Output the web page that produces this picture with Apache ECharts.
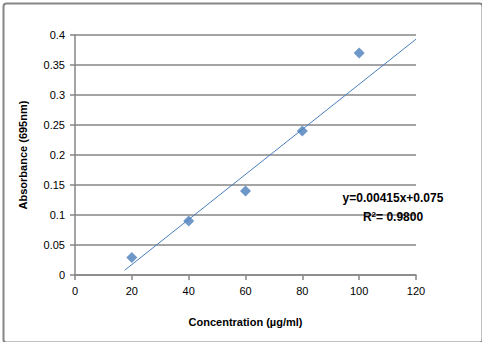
<!DOCTYPE html>
<html>
<head>
<meta charset="utf-8">
<script src="https://cdn.jsdelivr.net/npm/echarts@6/dist/echarts.min.js"></script>
<style>
html,body{margin:0;padding:0;background:#fff;}
#chart{width:482px;height:342px;}
</style>
</head>
<body>
<div id="chart"></div>
<script>
// Data
var concentrations = [20, 40, 60, 80, 100];
var absorbances = [0.029, 0.09, 0.14, 0.24, 0.37];
var trendX = [17.5, 120];
var trendY = [0.008, 0.393];
var xTitle = 'Concentration (µg/ml)';
var yTitle = 'Absorbance (695nm)';
var equationText = 'y=0.00415x+0.075';
var r2Value = '0.9800';

var font = '"Liberation Sans", Arial, sans-serif';
var gray = '#868686';
var blue = '#4a7ebb';

var chart = echarts.init(document.getElementById('chart'), null, {renderer: 'svg'});
chart.setOption({
  backgroundColor: '#fff',
  animation: false,
  grid: {left: 75, right: 66, top: 35, bottom: 67},
  xAxis: {
    type: 'value', min: 0, max: 120, interval: 20,
    axisLine: {show: true, onZero: false, lineStyle: {color: gray, width: 1.5}},
    axisTick: {show: true, length: 5, lineStyle: {color: gray, width: 1.5}},
    axisLabel: {color: '#000', fontFamily: font, fontSize: 11, margin: 10},
    splitLine: {show: false},
    name: xTitle, nameLocation: 'middle', nameGap: 41,
    nameTextStyle: {color: '#000', fontFamily: font, fontSize: 11, fontWeight: 'bold'}
  },
  yAxis: {
    type: 'value', min: 0, max: 0.4, interval: 0.05,
    axisLine: {show: true, lineStyle: {color: gray, width: 1.5}},
    axisTick: {show: true, length: 5, lineStyle: {color: gray, width: 1.5}},
    axisLabel: {color: '#000', fontFamily: font, fontSize: 11, margin: 10},
    splitLine: {show: true, lineStyle: {color: gray, width: 1.5}},
    name: yTitle, nameLocation: 'middle', nameGap: 47,
    nameTextStyle: {color: '#000', fontFamily: font, fontSize: 11, fontWeight: 'bold'}
  },
  series: [
    {
      type: 'line',
      data: trendX.map(function (x, i) { return [x, trendY[i]]; }),
      showSymbol: false, symbol: 'none',
      lineStyle: {color: blue, width: 1},
      z: 3
    },
    {
      type: 'scatter',
      data: concentrations.map(function (x, i) { return [x, absorbances[i]]; }),
      symbol: 'diamond', symbolSize: 11,
      itemStyle: {color: blue},
      z: 4
    }
  ],
  graphic: [
    {
      type: 'rect', left: 1, top: 1, z: 100, silent: true,
      shape: {width: 479, height: 339, r: 3},
      style: {fill: 'none', stroke: gray, lineWidth: 2}
    },
    {
      type: 'text', z: 50,
      x: 393, y: 198,
      style: {
        text: equationText, fill: '#000', font: 'bold 12px ' + font,
        align: 'center', verticalAlign: 'middle'
      }
    },
    {
      type: 'text', z: 50,
      x: 393, y: 217,
      style: {
        text: 'R{sup|2}= ' + r2Value, fill: '#000', font: 'bold 12px ' + font,
        align: 'center', verticalAlign: 'middle',
        rich: {sup: {fontSize: 8, fontWeight: 'bold', fontFamily: font, verticalAlign: 'top', padding: [0, 0, 6, 0]}}
      }
    }
  ]
});
</script>
</body>
</html>
